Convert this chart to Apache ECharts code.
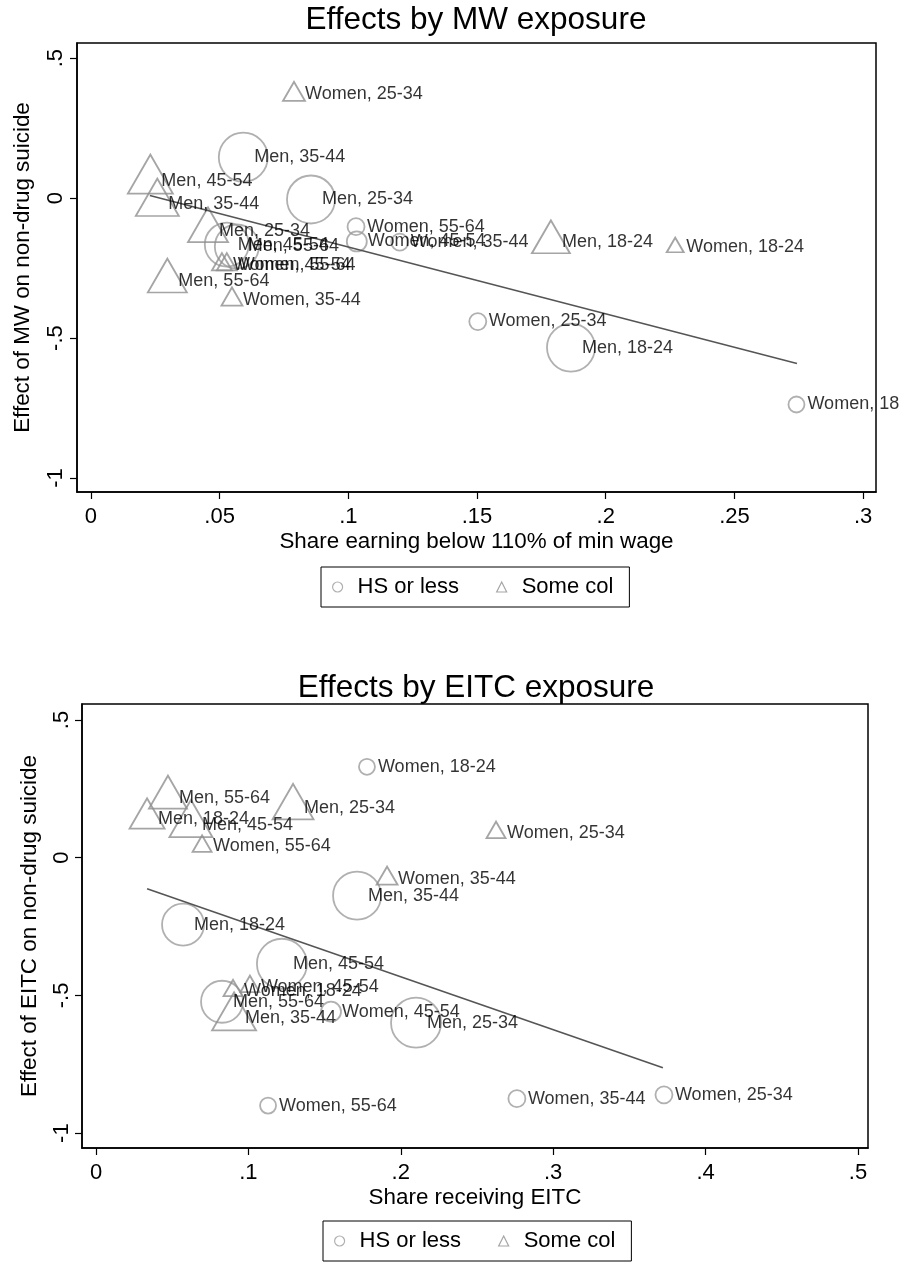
<!DOCTYPE html>
<html>
<head>
<meta charset="utf-8">
<title>Effects by MW and EITC exposure</title>
<script src="https://cdn.jsdelivr.net/npm/echarts@6/dist/echarts.min.js"></script>
<style>
  html, body { margin: 0; padding: 0; background: #fff; }
  #chart { width: 899px; height: 1262px; }
</style>
</head>
<body>
<div id="chart"></div>
<script>
// Demographic cells (same order in every array below)
const groups = ['Men, 18-24', 'Men, 25-34', 'Men, 35-44', 'Men, 45-54', 'Men, 55-64',
                'Women, 18-24', 'Women, 25-34', 'Women, 35-44', 'Women, 45-54', 'Women, 55-64'];

// Minimum wage: share earning below 110% of MW vs. estimated effect
const mwShareHS   = [0.1865, 0.0855, 0.0592, 0.0528, 0.0567, 0.2741, 0.1503, 0.1200, 0.1033, 0.1030];
const mwEffectHS  = [-0.534, -0.005, 0.146, -0.166, -0.173, -0.7375, -0.441, -0.157, -0.155, -0.102];
const mwShareSC   = [0.1787, 0.0455, 0.0258, 0.0231, 0.0297, 0.2270, 0.0789, 0.0548, 0.0509, 0.0528];
const mwEffectSC  = [-0.158, -0.116, -0.0196, 0.0625, -0.297, -0.176, 0.370, -0.3625, -0.2375, -0.2375];
const mwFit       = [[0.0229, 0.009], [0.2743, -0.591]];

// EITC: share receiving EITC vs. estimated effect
const eitcShareHS  = [0.0571, 0.2100, 0.1713, 0.1220, 0.0827, 0.1778, 0.3727, 0.2762, 0.1542, 0.1129];
const eitcEffectHS = [-0.243, -0.599, -0.138, -0.385, -0.523, 0.330, -0.861, -0.875, -0.559, -0.900];
const eitcShareSC  = [0.0335, 0.1293, 0.0906, 0.0623, 0.0472, 0.0899, 0.2625, 0.1910, 0.1010, 0.0696];
const eitcEffectSC = [0.142, 0.182, -0.581, 0.120, 0.218, -0.483, 0.091, -0.076, -0.468, 0.041];
const eitcFit      = [[0.0335, -0.1126], [0.372, -0.7625]];

// Cell weights, shown as marker size (px)
const mwWeightHS   = [48, 48, 49, 44, 44, 16, 17, 17, 20, 17];
const mwWeightSC   = [38, 40, 43, 45, 39, 17, 22, 21, 20, 20];
const eitcWeightHS = [42, 50, 48, 50, 42, 16, 17, 17, 20, 16];
const eitcWeightSC = [35, 41, 44, 43, 38, 19, 19, 21, 19, 19];

// Axis ticks
const mwXTicks   = [0, 0.05, 0.1, 0.15, 0.2, 0.25, 0.3];
const eitcXTicks = [0, 0.1, 0.2, 0.3, 0.4, 0.5];
const yTicks     = [-1, -0.5, 0, 0.5];

const legendNames = ['HS or less', 'Some col'];

const FONT = '"Liberation Sans", Arial, Helvetica, sans-serif';
const CIRCLE_COLOR = '#9c9c9c';
const TRI_COLOR = '#8e8e8e';

function tickFmt(v) {
  if (v === 0) return '0';
  return String(+(+v).toFixed(3)).replace(/^(-?)0\./, '$1.');
}

function xAxisCfg(gridIndex, min, max, ticks, name, nameGap) {
  return {
    type: 'value', gridIndex, min, max, name,
    nameLocation: 'middle', nameGap,
    nameTextStyle: { fontFamily: FONT, fontSize: 22.4, color: '#000' },
    axisLine: { onZero: false, lineStyle: { color: '#000', width: 1.5 } },
    axisTick: { customValues: ticks, length: 7, lineStyle: { color: '#000', width: 1.2 } },
    axisLabel: { customValues: ticks, formatter: tickFmt, margin: 14,
                 fontFamily: FONT, fontSize: 22, color: '#000' },
    splitLine: { show: false }
  };
}

function yAxisCfg(gridIndex, min, max, name, nameGap, margin) {
  return {
    type: 'value', gridIndex, min, max, name,
    nameLocation: 'middle', nameGap,
    nameTextStyle: { fontFamily: FONT, fontSize: 22.4, color: '#000' },
    axisLine: { onZero: false, lineStyle: { color: '#000', width: 1.5 } },
    axisTick: { customValues: yTicks, length: 7, lineStyle: { color: '#000', width: 1.2 } },
    axisLabel: { customValues: yTicks, formatter: tickFmt, rotate: 90, margin,
                 fontFamily: FONT, fontSize: 22, color: '#000' },
    splitLine: { show: false }
  };
}

function circleSeries(idx, xs, ys, sizes) {
  return {
    name: legendNames[0], type: 'scatter', xAxisIndex: idx, yAxisIndex: idx,
    symbol: 'circle',
    itemStyle: { color: 'rgba(0,0,0,0)', borderColor: CIRCLE_COLOR, borderWidth: 1.8 },
    data: xs.map((x, i) => ({ value: [x, ys[i]], name: groups[i], symbolSize: sizes[i] })),
    z: 2
  };
}

// Triangles are anchored at their centroid (2/3 of the way down from the apex)
function triangleSeries(idx, xs, ys, sizes) {
  return {
    name: legendNames[1], type: 'scatter', xAxisIndex: idx, yAxisIndex: idx,
    symbol: 'triangle',
    itemStyle: { color: 'rgba(0,0,0,0)', borderColor: TRI_COLOR, borderWidth: 1.8 },
    data: xs.map((x, i) => {
      const w = sizes[i], h = w * 0.866;
      return { value: [x, ys[i]], name: groups[i], symbolSize: [w, h], symbolOffset: [0, -h / 6] };
    }),
    z: 2
  };
}

function labelSeries(idx, sets) {
  const data = [];
  sets.forEach(([xs, ys]) => xs.forEach((x, i) => data.push({ value: [x, ys[i]], name: groups[i] })));
  return {
    name: 'labels' + idx, type: 'scatter', xAxisIndex: idx, yAxisIndex: idx,
    symbol: 'circle', symbolSize: 0, clip: false, silent: true,
    itemStyle: { color: 'rgba(0,0,0,0)' },
    label: { show: true, position: 'right', distance: 11, formatter: p => p.name,
             fontFamily: FONT, fontSize: 18, color: '#000' },
    labelLayout: { hideOverlap: false },
    data, z: 4
  };
}

function fitSeries(idx, pts) {
  return {
    name: 'fit' + idx, type: 'line', xAxisIndex: idx, yAxisIndex: idx,
    symbol: 'none', silent: true,
    lineStyle: { color: '#555', width: 1.6 },
    data: pts, z: 3
  };
}

function legendCfg(left, top) {
  return {
    left, top, orient: 'horizontal',
    data: [{ name: legendNames[0], icon: 'circle' }, { name: legendNames[1], icon: 'triangle' }],
    selectedMode: false,
    borderColor: '#000', borderWidth: 1, borderRadius: 0,
    padding: [9, 16, 9, 11],
    itemWidth: 10, itemHeight: 10, itemGap: 37,
    itemStyle: { borderWidth: 1.2 },
    textStyle: { fontFamily: FONT, fontSize: 22, color: '#000', padding: [0, 0, 0, 10] }
  };
}

const chart = echarts.init(document.getElementById('chart'), null, { renderer: 'canvas' });

chart.setOption({
  animation: false,
  backgroundColor: '#fff',
  title: [
    { text: 'Effects by MW exposure', left: 476, top: 4, textAlign: 'center', padding: 0,
      textStyle: { fontFamily: FONT, fontSize: 31.5, fontWeight: 'normal', color: '#000' } },
    { text: 'Effects by EITC exposure', left: 476, top: 672, textAlign: 'center', padding: 0,
      textStyle: { fontFamily: FONT, fontSize: 31.5, fontWeight: 'normal', color: '#000' } }
  ],
  legend: [legendCfg(321, 567), legendCfg(323, 1221)],
  grid: [
    { left: 77, top: 43, width: 799, height: 449, show: true, borderColor: '#000', borderWidth: 1.5, backgroundColor: '#fff' },
    { left: 82, top: 704, width: 786, height: 444, show: true, borderColor: '#000', borderWidth: 1.5, backgroundColor: '#fff' }
  ],
  xAxis: [
    xAxisCfg(0, -0.0054, 0.305, mwXTicks, 'Share earning below 110% of min wage', 39),
    xAxisCfg(1, -0.0092, 0.5066, eitcXTicks, 'Share receiving EITC', 39)
  ],
  yAxis: [
    yAxisCfg(0, -1.05, 0.554, 'Effect of MW on non-drug suicide', 43, 10),
    yAxisCfg(1, -1.054, 0.558, 'Effect of EITC on non-drug suicide', 41, 9)
  ],
  series: [
    circleSeries(0, mwShareHS, mwEffectHS, mwWeightHS),
    triangleSeries(0, mwShareSC, mwEffectSC, mwWeightSC),
    labelSeries(0, [[mwShareHS, mwEffectHS], [mwShareSC, mwEffectSC]]),
    fitSeries(0, mwFit),
    circleSeries(1, eitcShareHS, eitcEffectHS, eitcWeightHS),
    triangleSeries(1, eitcShareSC, eitcEffectSC, eitcWeightSC),
    labelSeries(1, [[eitcShareHS, eitcEffectHS], [eitcShareSC, eitcEffectSC]]),
    fitSeries(1, eitcFit)
  ]
});
</script>
</body>
</html>
